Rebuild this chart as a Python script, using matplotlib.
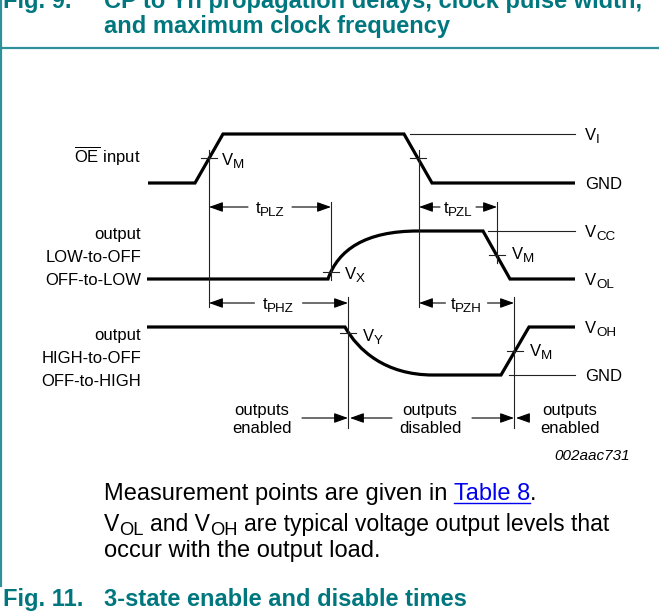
import matplotlib
matplotlib.use("Agg")
import matplotlib.pyplot as plt
from matplotlib.path import Path
from matplotlib.patches import PathPatch

plt.rcParams["font.family"] = ["Liberation Sans", "DejaVu Sans"]
plt.rcParams["mathtext.fontset"] = "custom"
plt.rcParams["mathtext.rm"] = "Liberation Sans"

# Waveform break points (x = time, y = level), drawn in a 659 x 615 canvas
oe_t = [148, 195, 223, 404, 432, 575]
oe_v = [183, 183, 134, 134, 183, 183]

# LOW-to-OFF / OFF-to-LOW output: flat, RC rise, flat, fall, flat
low_t = [147, 328, 338, 365, 418, 483, 510, 575]
low_v = [279, 279, 250, 231, 231, 231, 279, 279]

# HIGH-to-OFF / OFF-to-HIGH output: flat, RC fall, flat, rise, flat
high_t = [147, 345, 358, 385, 433, 501, 529, 575]
high_v = [327, 327, 350, 375, 375, 375, 327, 327]

# reference levels on the right (main text, subscript)
level_y = [134, 183, 231, 279, 327, 375]
level_lbl = [("V", "I"), ("GND", ""), ("V", "CC"), ("V", "OL"), ("V", "OH"), ("GND", "")]
ref_start = [410, None, 488, None, None, 509]

# measurement points
meas_x = [209, 418, 331, 497, 348, 515]
meas_y = [158, 158, 272, 255, 333, 351]
meas_lbl = [("V", "M"), None, ("V", "X"), ("V", "M"), ("V", "Y"), ("V", "M")]

# timing intervals
tim_start = [209, 419, 209, 419]
tim_end = [331, 497, 348, 514]
tim_y = [207, 207, 303, 303]
tim_lbl = ["PLZ", "PZL", "PHZ", "PZH"]

teal = "#00777e"
border = "#2f929a"

fig = plt.figure(figsize=(6.59, 6.15), dpi=100)
ax = fig.add_axes([0, 0, 1, 1])
ax.set_xlim(0, 659)
ax.set_ylim(615, 0)
ax.axis("off")
renderer = fig.canvas.get_renderer()


def measure(s, size, **kw):
    t = ax.text(0, 0, s, fontsize=size, **kw)
    w = t.get_window_extent(renderer).width
    t.remove()
    return w


def sub_text(x, y, parts, size=12, ha="left", **kw):
    # parts: list of (string, is_subscript); returns right edge
    sp = measure("x x", size) - measure("xx", size)
    items = []
    for s, is_sub in parts:
        fs = size * 0.8 if is_sub else size
        core = s.strip(" ")
        lead = (len(s) - len(s.lstrip(" "))) * sp
        trail = (len(s) - len(s.rstrip(" "))) * sp
        items.append((core, fs, is_sub, lead, trail, measure(core, fs, **kw) if core else 0))
    total = sum(i[3] + i[4] + i[5] for i in items)
    cur = x - total if ha == "right" else x - total / 2 if ha == "center" else x
    for core, fs, is_sub, lead, trail, w in items:
        cur += lead
        if core:
            ax.text(cur, y + (0.27 * size if is_sub else 0), core, fontsize=fs,
                    va="baseline", ha="left", **kw)
        cur += w + trail
    return cur


# frame
ax.plot([1, 1], [0, 586], color=border, lw=1.6)
ax.plot([0, 659], [48, 48], color=border, lw=1.6)

# captions
cap = dict(fontsize=17, fontweight="bold", color=teal, va="baseline")
ax.text(3, 8, "Fig. 9.", **cap)
ax.text(104, 8, "CP to Yn propagation delays, clock pulse width,", **cap)
ax.text(104, 33, "and maximum clock frequency", **cap)
ax.text(3, 606, "Fig. 11.", **cap)
ax.text(104, 606, "3-state enable and disable times", **cap)

thin = dict(color="#222222", lw=0.8)


def wave(t, v):
    verts = list(zip(t, v))
    codes = [Path.MOVETO] + [Path.LINETO] * (len(verts) - 1)
    if len(verts) == 8:
        codes[2:5] = [Path.CURVE4] * 3
    ax.add_patch(PathPatch(Path(verts, codes), fill=False, lw=2.3,
                           edgecolor="black", joinstyle="miter", capstyle="butt"))


ax.plot(oe_t, oe_v, color="black", lw=2.3, solid_joinstyle="miter", solid_capstyle="butt")
wave(low_t, low_v)
wave(high_t, high_v)

# reference level lines + labels
for y, (m, s), xs in zip(level_y, level_lbl, ref_start):
    if xs is not None:
        ax.plot([xs, 575], [y, y], **thin)
    sub_text(585, y + 6, [(m, False), (s, True)])

# measurement ticks and labels
lbl_dx = [13, 0, 14, 15, 15, 15]
lbl_dy = [7, 0, 7, 4, 8, 5]
for x, y, lbl, dx, dy in zip(meas_x, meas_y, meas_lbl, lbl_dx, lbl_dy):
    ax.plot([x - 8, x + 8], [y, y], **thin)
    if lbl:
        sub_text(x + dx, y + dy, [(lbl[0], False), (lbl[1], True)])

# vertical reference lines
vl_x = [209, 331, 419, 497, 348, 514]
vl_top = [150, 202, 150, 202, 297, 297]
vl_bot = [307, 280, 307, 263, 428, 428]
for x, y0, y1 in zip(vl_x, vl_top, vl_bot):
    ax.plot([x, x], [y0, y1], **thin)


def arrow(x_from, x_to, y):
    ax.annotate("", xy=(x_to, y), xytext=(x_from, y),
                arrowprops=dict(arrowstyle="-|>,head_length=0.7,head_width=0.25",
                                color="black", lw=0.8, mutation_scale=12,
                                shrinkA=0, shrinkB=0))


gap = [22, 18, 24, 21]
for a, b, y, lbl, g in zip(tim_start, tim_end, tim_y, tim_lbl, gap):
    c = (a + b) / 2
    sub_text(c, y + 6, [("t", False), (lbl, True)], ha="center")
    arrow(c - g, a, y)
    arrow(c + g, b, y)

# left labels
left_lbl = [r"$\overline{\mathrm{OE}}$ input", "output", "LOW-to-OFF", "OFF-to-LOW",
            "output", "HIGH-to-OFF", "OFF-to-HIGH"]
left_y = [163, 239, 262, 285, 340, 363, 386]
for lbl, y in zip(left_lbl, left_y):
    ax.text(141, y, lbl, fontsize=12, ha="right", va="baseline")

# output state labels
state_x = [262, 430, 570]
state_lbl = ["outputs\nenabled", "outputs\ndisabled", "outputs\nenabled"]
for x, lbl in zip(state_x, state_lbl):
    ax.text(x, 433, lbl, fontsize=12, ha="center", va="baseline", linespacing=1.25)
arrow(302, 348, 418)
arrow(392, 350, 418)
arrow(472, 514, 418)
arrow(528, 516, 418)

ax.text(630, 460, "002aac731", fontsize=11, style="italic", ha="right", va="baseline")

# notes
x1 = sub_text(104, 500, [("Measurement points are given in ", False)], size=17)
x2 = sub_text(x1, 500, [("Table 8", False)], size=17, color="#0000ee")
ax.plot([x1, x2], [503, 503], color="#0000ee", lw=1.0)
ax.text(x2, 500, ".", fontsize=17, va="baseline")
sub_text(104, 531, [("V", False), ("OL", True), (" and V", False), ("OH", True),
                    (" are typical voltage output levels that", False)], size=16.6)
ax.text(104, 557, "occur with the output load.", fontsize=17, va="baseline")

fig.savefig("out.png", dpi=100)
